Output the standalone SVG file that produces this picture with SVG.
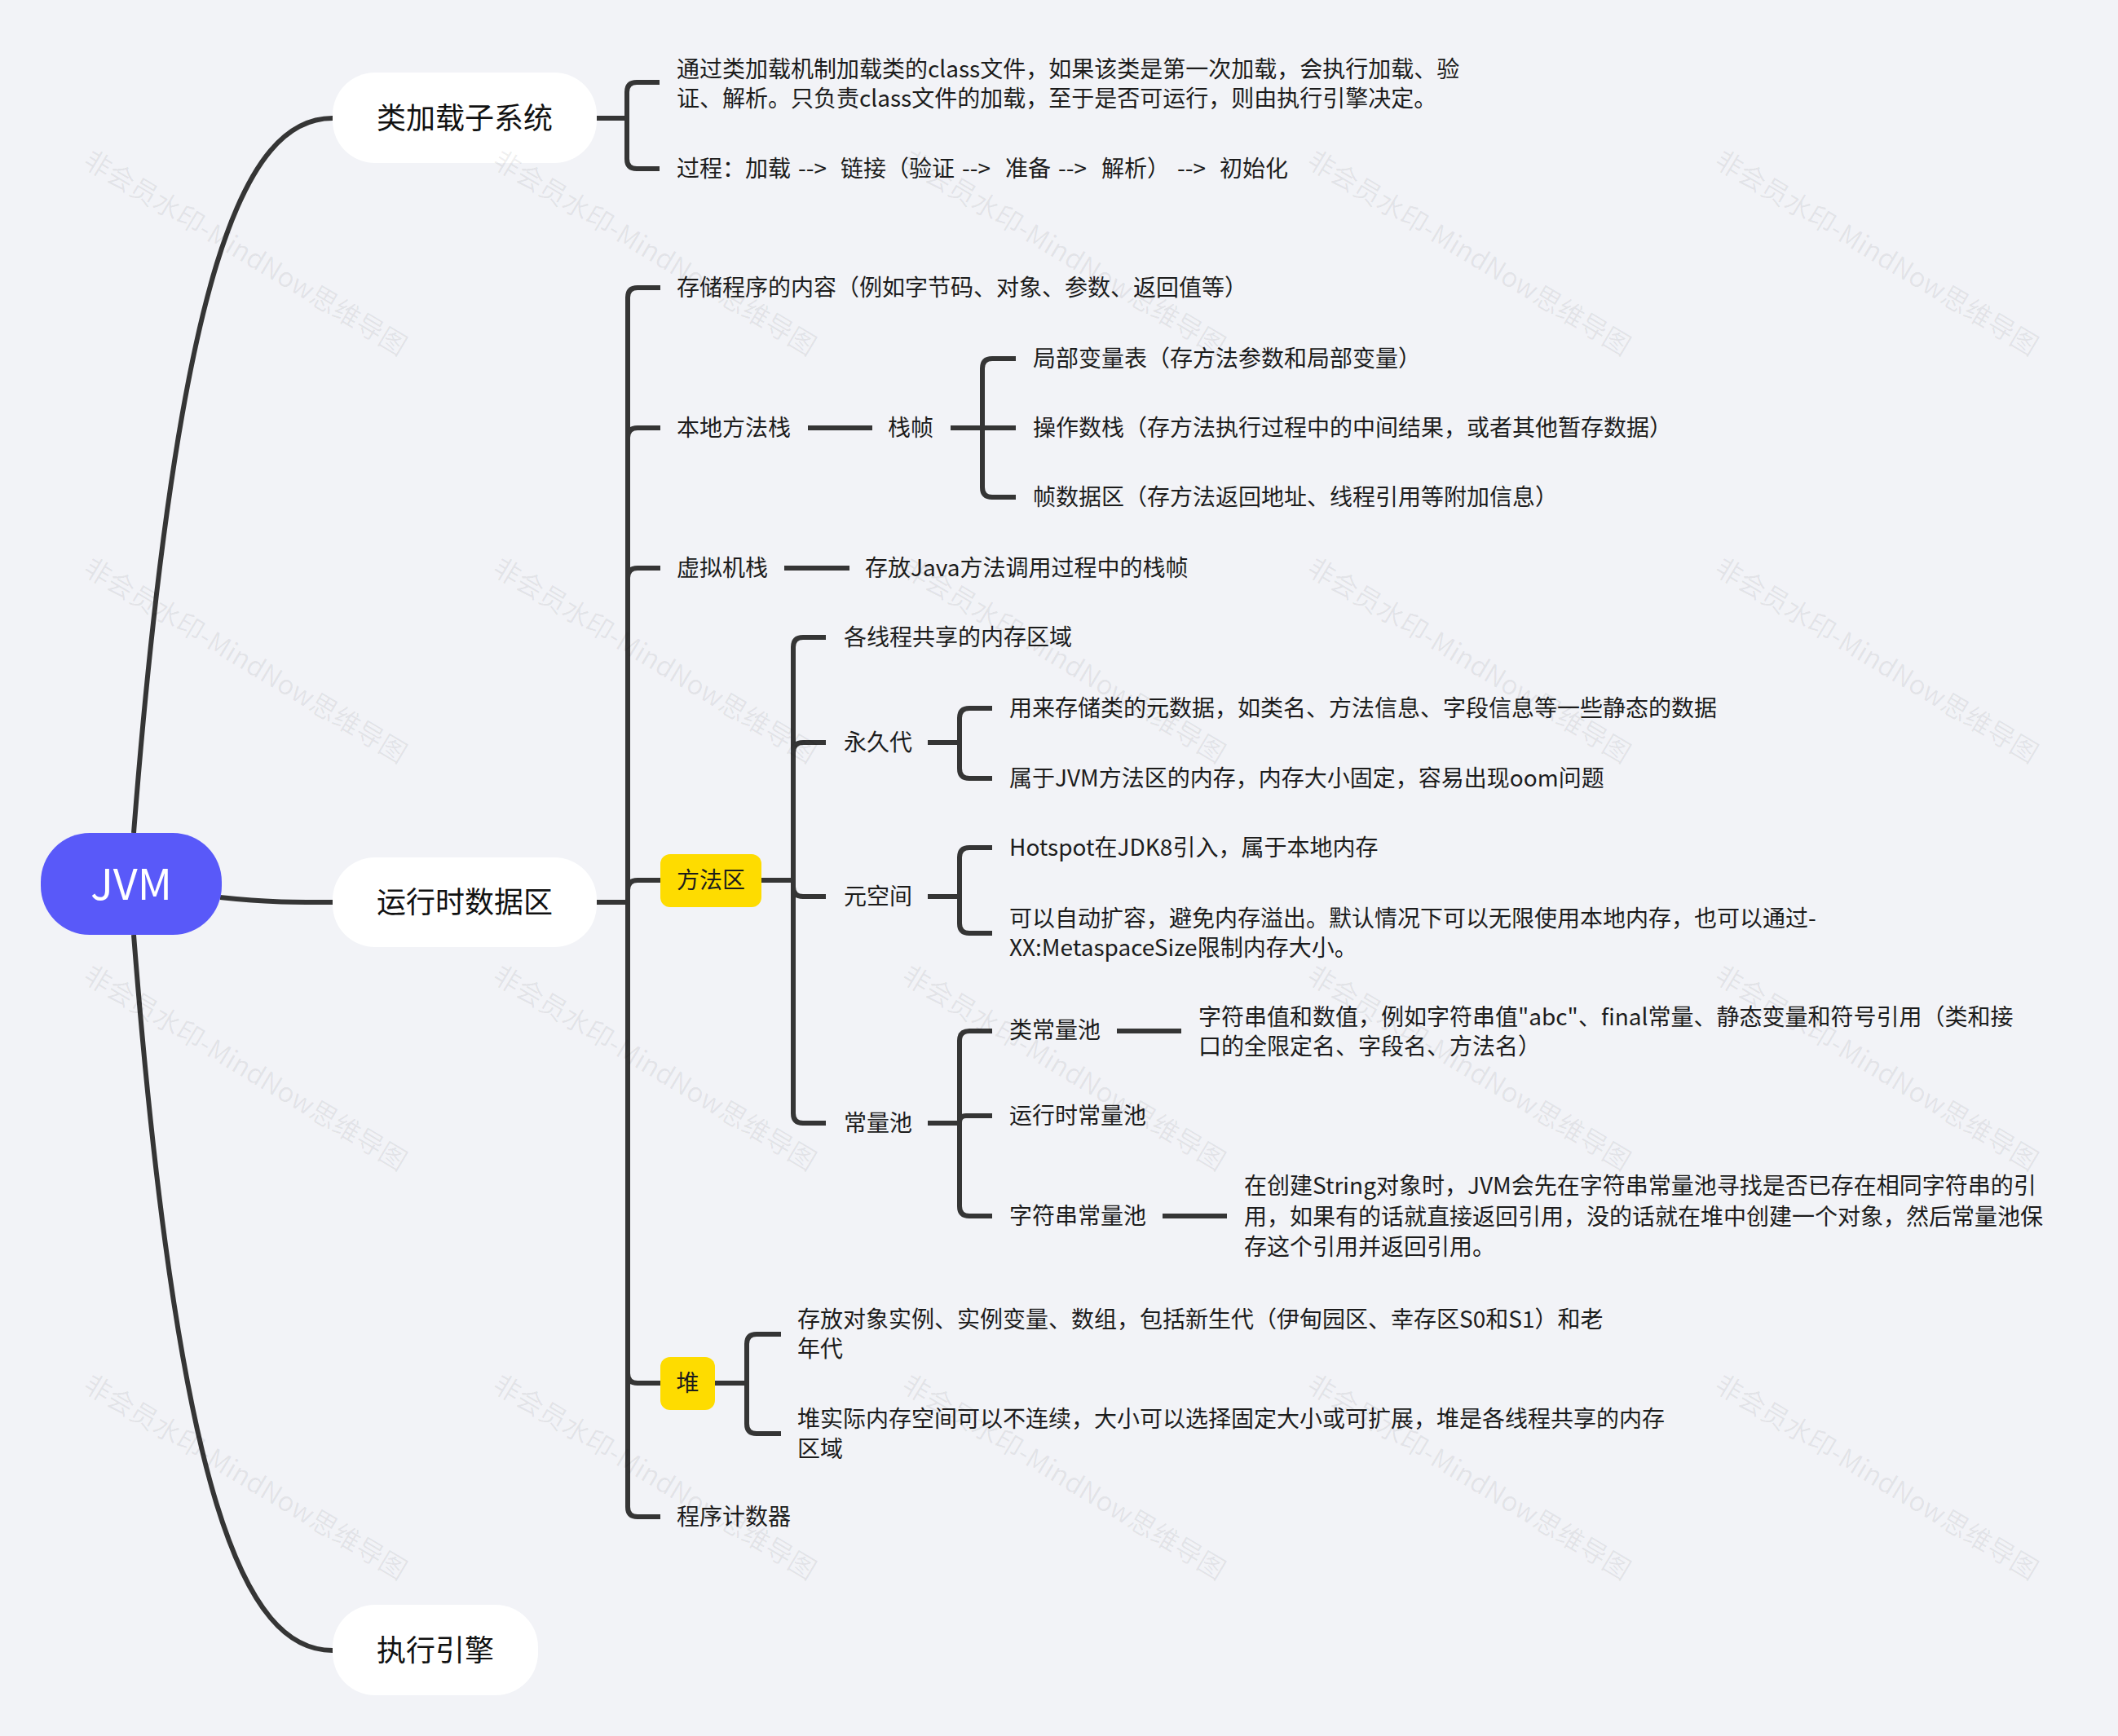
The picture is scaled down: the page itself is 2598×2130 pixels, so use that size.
<svg xmlns="http://www.w3.org/2000/svg" width="2598" height="2130" viewBox="0 0 2598 2130">
<style>
.c{fill:none;stroke:#353535;stroke-width:6;stroke-linejoin:round;stroke-linecap:butt}
.t{font-family:"Noto Sans CJK SC","Noto Sans",sans-serif;font-size:28px;fill:#1c1c1c}
.p{font-family:"Noto Sans CJK SC","Noto Sans",sans-serif;font-size:36px;fill:#111;text-anchor:middle}
.pill{fill:#ffffff}
.y{fill:#fedc00}
.wm{font-family:"Noto Sans CJK SC","Noto Sans",sans-serif;font-size:33px;fill:#000;fill-opacity:0.065}
</style>
<rect width="2598" height="2130" fill="#f2f3f7"/>
<g id="connectors">
<path class="c" d="M164,1022 C218,330 300,145 408,145"/>
<path class="c" d="M164,1147 C218,1839 300,2025 408,2025"/>
<path class="c" d="M270,1101 C330,1107 350,1107 408,1107"/>
<path class="c" d="M732,145 H769 M769,145 V113 Q769,101 781,101 H809 M769,145 V195 Q769,207 781,207 H809"/>
<path class="c" d="M732,1107 H770 M770,1107 V365 Q770,353 782,353 H810 M770,1107 V537 Q770,525 782,525 H810 M770,1107 V709 Q770,697 782,697 H810 M770,1107 V1092 Q770,1080 782,1080 H810 M770,1107 V1685 Q770,1697 782,1697 H810 M770,1107 V1849 Q770,1861 782,1861 H810"/>
<path class="c" d="M991,525 H1070"/>
<path class="c" d="M1166,525 H1205 M1205,525 V452 Q1205,440 1217,440 H1246 M1205,525 H1246 M1205,525 V598 Q1205,610 1217,610 H1246"/>
<path class="c" d="M962,697 H1042"/>
<path class="c" d="M934,1080 H973 M973,1080 V794 Q973,782 985,782 H1013 M973,1080 V923 Q973,911 985,911 H1013 M973,1080 V1088 Q973,1100 985,1100 H1013 M973,1080 V1366 Q973,1378 985,1378 H1013"/>
<path class="c" d="M1138,911 H1177 M1177,911 V881 Q1177,869 1189,869 H1217 M1177,911 V943 Q1177,955 1189,955 H1217"/>
<path class="c" d="M1138,1100 H1177 M1177,1100 V1052 Q1177,1040 1189,1040 H1217 M1177,1100 V1133 Q1177,1145 1189,1145 H1217"/>
<path class="c" d="M1138,1378 H1177 M1177,1378 V1277 Q1177,1265 1189,1265 H1217 M1177,1378 V1377 Q1177,1369 1185,1369 H1217 M1177,1378 V1480 Q1177,1492 1189,1492 H1217"/>
<path class="c" d="M1370,1265 H1449"/>
<path class="c" d="M1426,1492 H1505"/>
<path class="c" d="M877,1697 H916 M916,1697 V1649 Q916,1637 928,1637 H958 M916,1697 V1747 Q916,1759 928,1759 H958"/>
</g>
<g id="jvm">
<rect x="50" y="1022" width="222" height="125" rx="60" fill="#5959f9"/>
<text x="161" y="1104" font-family="Noto Sans CJK SC,Noto Sans,sans-serif" font-size="52" fill="#ffffff" text-anchor="middle">JVM</text>
</g>
<g id="n-classloader">
<rect class="pill" x="408" y="89" width="324" height="111" rx="52"/>
<text class="p" x="570" y="158">类加载子系统</text>
</g>
<g id="n-runtime">
<rect class="pill" x="408" y="1052" width="324" height="110" rx="52"/>
<text class="p" x="570" y="1120">运行时数据区</text>
</g>
<g id="n-engine">
<rect class="pill" x="408" y="1969" width="252" height="111" rx="52"/>
<text class="p" x="534" y="2038">执行引擎</text>
</g>
<g id="n-cl-desc"><text class="t" x="830" y="95">通过类加载机制加载类的class文件，如果该类是第一次加载，会执行加载、验</text><text class="t" x="830" y="131">证、解析。只负责class文件的加载，至于是否可运行，则由执行引擎决定。</text></g>
<g id="n-cl-proc"><text class="t" y="217"><tspan x="830">过程：加载</tspan><tspan x="979">--&gt;</tspan><tspan x="1031">链接（验证</tspan><tspan x="1180">--&gt;</tspan><tspan x="1233">准备</tspan><tspan x="1298">--&gt;</tspan><tspan x="1351">解析）</tspan><tspan x="1444">--&gt;</tspan><tspan x="1496">初始化</tspan></text></g>
<g id="n-store"><text class="t" x="830" y="363">存储程序的内容（例如字节码、对象、参数、返回值等）</text></g>
<g id="n-native"><text class="t" x="830" y="535">本地方法栈</text></g>
<g id="n-frame"><text class="t" x="1089" y="535">栈帧</text></g>
<g id="n-local"><text class="t" x="1267" y="450">局部变量表（存方法参数和局部变量）</text></g>
<g id="n-operand"><text class="t" x="1267" y="535">操作数栈（存方法执行过程中的中间结果，或者其他暂存数据）</text></g>
<g id="n-framedata"><text class="t" x="1267" y="620">帧数据区（存方法返回地址、线程引用等附加信息）</text></g>
<g id="n-vmstack"><text class="t" x="830" y="707">虚拟机栈</text></g>
<g id="n-vmstack-desc"><text class="t" x="1061" y="707">存放Java方法调用过程中的栈帧</text></g>
<g id="n-method">
<rect class="y" x="810" y="1048" width="124" height="65" rx="12"/>
<text class="t" x="872" y="1090" text-anchor="middle" fill="#111">方法区</text>
</g>
<g id="n-shared"><text class="t" x="1035" y="792">各线程共享的内存区域</text></g>
<g id="n-perm"><text class="t" x="1035" y="921">永久代</text></g>
<g id="n-perm1"><text class="t" x="1238" y="879">用来存储类的元数据，如类名、方法信息、字段信息等一些静态的数据</text></g>
<g id="n-perm2"><text class="t" x="1238" y="965">属于JVM方法区的内存，内存大小固定，容易出现oom问题</text></g>
<g id="n-meta"><text class="t" x="1035" y="1110">元空间</text></g>
<g id="n-meta1"><text class="t" x="1238" y="1050">Hotspot在JDK8引入，属于本地内存</text></g>
<g id="n-meta2"><text class="t" x="1238" y="1137">可以自动扩容，避免内存溢出。默认情况下可以无限使用本地内存，也可以通过-</text><text class="t" x="1238" y="1173">XX:MetaspaceSize限制内存大小。</text></g>
<g id="n-pool"><text class="t" x="1035" y="1388">常量池</text></g>
<g id="n-classpool"><text class="t" x="1238" y="1274">类常量池</text></g>
<g id="n-classpool-desc"><text class="t" x="1470" y="1258">字符串值和数值，例如字符串值"abc"、final常量、静态变量和符号引用（类和接</text><text class="t" x="1470" y="1294">口的全限定名、字段名、方法名）</text></g>
<g id="n-rtpool"><text class="t" x="1238" y="1379">运行时常量池</text></g>
<g id="n-strpool"><text class="t" x="1238" y="1502">字符串常量池</text></g>
<g id="n-strpool-desc"><text class="t" x="1526" y="1465">在创建String对象时，JVM会先在字符串常量池寻找是否已存在相同字符串的引</text><text class="t" x="1526" y="1503">用，如果有的话就直接返回引用，没的话就在堆中创建一个对象，然后常量池保</text><text class="t" x="1526" y="1540">存这个引用并返回引用。</text></g>
<g id="n-heap">
<rect class="y" x="810" y="1665" width="67" height="65" rx="12"/>
<text class="t" x="843.5" y="1707" text-anchor="middle" fill="#111">堆</text>
</g>
<g id="n-heap1"><text class="t" x="978" y="1629">存放对象实例、实例变量、数组，包括新生代（伊甸园区、幸存区S0和S1）和老</text><text class="t" x="978" y="1665">年代</text></g>
<g id="n-heap2"><text class="t" x="978" y="1751">堆实际内存空间可以不连续，大小可以选择固定大小或可扩展，堆是各线程共享的内存</text><text class="t" x="978" y="1788">区域</text></g>
<g id="n-pc"><text class="t" x="830" y="1871">程序计数器</text></g>
<g id="watermarks">
<text class="wm" transform="translate(100,203) rotate(31)">非会员水印-MindNow思维导图</text>
<text class="wm" transform="translate(602,203) rotate(31)">非会员水印-MindNow思维导图</text>
<text class="wm" transform="translate(1104,203) rotate(31)">非会员水印-MindNow思维导图</text>
<text class="wm" transform="translate(1601,203) rotate(31)">非会员水印-MindNow思维导图</text>
<text class="wm" transform="translate(2101,203) rotate(31)">非会员水印-MindNow思维导图</text>
<text class="wm" transform="translate(100,703) rotate(31)">非会员水印-MindNow思维导图</text>
<text class="wm" transform="translate(602,703) rotate(31)">非会员水印-MindNow思维导图</text>
<text class="wm" transform="translate(1104,703) rotate(31)">非会员水印-MindNow思维导图</text>
<text class="wm" transform="translate(1601,703) rotate(31)">非会员水印-MindNow思维导图</text>
<text class="wm" transform="translate(2101,703) rotate(31)">非会员水印-MindNow思维导图</text>
<text class="wm" transform="translate(100,1203) rotate(31)">非会员水印-MindNow思维导图</text>
<text class="wm" transform="translate(602,1203) rotate(31)">非会员水印-MindNow思维导图</text>
<text class="wm" transform="translate(1104,1203) rotate(31)">非会员水印-MindNow思维导图</text>
<text class="wm" transform="translate(1601,1203) rotate(31)">非会员水印-MindNow思维导图</text>
<text class="wm" transform="translate(2101,1203) rotate(31)">非会员水印-MindNow思维导图</text>
<text class="wm" transform="translate(100,1705) rotate(31)">非会员水印-MindNow思维导图</text>
<text class="wm" transform="translate(602,1705) rotate(31)">非会员水印-MindNow思维导图</text>
<text class="wm" transform="translate(1104,1705) rotate(31)">非会员水印-MindNow思维导图</text>
<text class="wm" transform="translate(1601,1705) rotate(31)">非会员水印-MindNow思维导图</text>
<text class="wm" transform="translate(2101,1705) rotate(31)">非会员水印-MindNow思维导图</text>
</g>
</svg>
